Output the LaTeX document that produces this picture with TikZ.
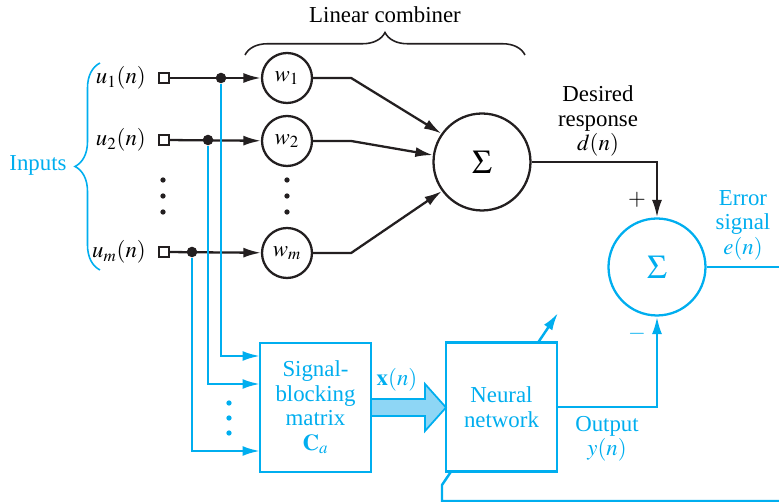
\documentclass[tikz,border=0pt]{standalone}
\usepackage{mathptmx}
\usepackage{fontspec}
\setmainfont{Liberation Serif}
\usepackage{xcolor}
\usetikzlibrary{arrows.meta, decorations.pathreplacing}
\definecolor{ink}{HTML}{231F20}
\definecolor{cyanline}{HTML}{00AEEF}
\definecolor{cyanfill}{HTML}{8ED6F5}

\begin{document}
\begin{tikzpicture}[x=0.02cm, y=-0.02cm,
  every node/.style={font=\fontsize{13}{14}\selectfont},
  wgt/.style={draw=ink, circle, line width=1.3pt, minimum size=1cm, inner sep=0pt},
  adder/.style={draw=ink, circle, line width=1.3pt, minimum size=1.94cm, inner sep=0pt, font=\fontsize{19}{22}\selectfont},
  blk/.style={draw=cyanline, line width=1.4pt, fill=white, minimum width=2.22cm, minimum height=2.58cm, align=center, text=cyanline},
  port/.style={draw=ink, line width=1pt, fill=white, minimum size=5.5pt, inner sep=0pt},
  tap/.style={circle, fill=ink, minimum size=6pt, inner sep=0pt},
  kline/.style={draw=ink, line width=1.3pt},
  cline/.style={draw=cyanline, line width=1.4pt},
  >={Latex[length=3.5mm, width=2mm]}
]
\clip (0,0) rectangle (779,502);

% inputs and weights
\node[anchor=east] (u1) at (152,78)  {$u_1(n)$};
\node[anchor=east] (u2) at (152,140) {$u_2(n)$};
\node[anchor=east] (um) at (152,252) {$u_m(n)$};
\node[port] (p1) at (164,78)  {};
\node[port] (p2) at (164,140) {};
\node[port] (pm) at (164,252) {};
\node[wgt] (w1) at (287,78)  {$w_1$};
\node[wgt] (w2) at (287,141) {$w_2$};
\node[wgt] (wm) at (287,253) {$w_m$};
\node[adder] (sum) at (482,162) {$\Sigma$};
\node[adder, draw=cyanline, text=cyanline] (err) at (657,267) {$\Sigma$};

\draw[kline, ->] (p1) -- (w1);
\draw[kline, ->] (p2) -- (w2);
\draw[kline, ->] (pm) -- (wm);
\node[tap] (t1) at (221,78)  {};
\node[tap] (t2) at (208,140) {};
\node[tap] (tm) at (192,252) {};
\foreach \x in {163,287}
  \foreach \y in {180,196,212}
    \fill[ink] (\x,\y) circle (1.5pt);

\draw[kline, ->] (w1.east) -- ++(38,0) -- (sum.145);
\draw[kline, ->] (w2.east) -- ++(38,0) -- (sum.172);
\draw[kline, ->] (wm.east) -- ++(38,0) -- (sum.216);
\draw[kline, ->] (sum.east) -| (err.north);

\draw[ink, line width=0.9pt, decorate, decoration={brace, amplitude=0.45cm}] (245,55) -- (525,55);
\node (lc) at (385,15) {Linear combiner};
\draw[cyanline, line width=0.9pt, decorate, decoration={brace, amplitude=0.5cm}] (100,270) -- (100,63);
\node[text=cyanline] (inputs) at (38,165) {Inputs};

\node[align=center] (dlab) at (598,121) {Desired\\response\\$d(n)$};
\node (plus) at (637,200) {$+$};
\node[text=cyanline] (minus) at (637,334) {$-$};

% adaptation path (passes behind the network box)
\coordinate (fb0) at (790,501);
\coordinate (fb1) at (442,501);
\coordinate (fb2) at (442,485);
\coordinate (fb3) at (558,313);
\draw[cline, ->] (fb0) -- (fb1) -- (fb2) -- (fb3);

% blocking matrix and network
\node[blk] (cblk) at (315.5,407.5) {Signal-\\blocking\\matrix\\$\mathbf{C}_a$};
\node[blk] (net) at (501.5,407) {Neural\\network};

\coordinate (in1) at (260,356);
\coordinate (in2) at (260,384);
\coordinate (inm) at (260,451);
\draw[cline, ->] (t1) |- (in1);
\draw[cline, ->] (t2) |- (in2);
\draw[cline, ->] (tm) |- (inm);
\foreach \y in {403,418,433}
  \fill[cyanline] (229,\y) circle (1.5pt);

\filldraw[fill=cyanfill, draw=cyanline, line width=1pt]
  (371,399) -- (425,399) -- (425,384) -- (446,407.5) -- (425,431) -- (425,416) -- (371,416) -- cycle;
\node[text=cyanline] (xlab) at (397,380) {$\mathbf{x}(n)$};

\draw[cline, ->] (net.east) -| (err.south);
\node[text=cyanline, align=center] (ylab) at (607,439) {Output\\$y(n)$};
\coordinate (eout) at (790,267);
\draw[cline] (err.east) -- (eout);
\node[text=cyanline, align=center] (elab) at (743,225) {Error\\signal\\$e(n)$};
\end{tikzpicture}
\end{document}
